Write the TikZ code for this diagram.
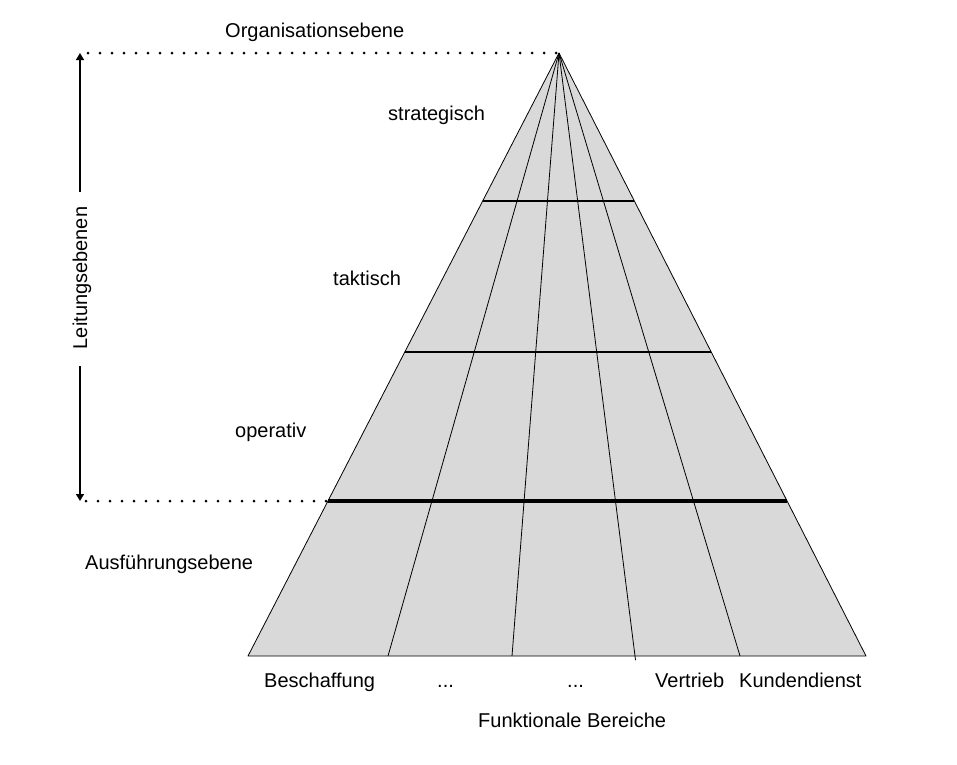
\documentclass[tikz,border=0pt]{standalone}
\usepackage{fontspec}
\setmainfont{Liberation Sans}
\usetikzlibrary{arrows.meta,calc}
\definecolor{pyrfill}{RGB}{217,217,217}
\begin{document}
\begin{tikzpicture}[x=1pt,y=-1pt,line join=round,
  lbl/.style={anchor=base west, inner sep=0pt, font=\fontsize{20}{24}\selectfont},
  thinline/.style={line width=0.8pt},
  levelline/.style={line width=2pt},
  mainlevel/.style={line width=3.2pt},
  dotline/.style={line width=3pt, line cap=round, dash pattern=on 0pt off 12pt},
  dimarrow/.style={line width=1.5pt, -{Triangle[width=8pt,length=7pt]}}]
\useasboundingbox (0,0) rectangle (957,764);
% pyramid
\coordinate (A) at (559,53);
\coordinate (BL) at (248,656);
\coordinate (BR) at (866,656);
\fill[pyrfill] (A) -- (BL) -- (BR) -- cycle;
\coordinate (b1) at (388,656);
\coordinate (b2) at (512,656);
\coordinate (b3) at (635,656);
\coordinate (b4) at (740,656);
\draw[thinline] (A) -- (b1);
\draw[thinline] (A) -- (b2);
\draw[thinline] (A) -- ($(A)!1.007!(b3)$);
\draw[thinline] (A) -- (b4);
\draw[thinline] (A) -- (BL) -- (BR) -- cycle;
% levels
\coordinate (l1L) at ($(A)!0.24544!(BL)$);
\coordinate (l1R) at ($(A)!0.24544!(BR)$);
\coordinate (l2L) at ($(A)!0.49585!(BL)$);
\coordinate (l2R) at ($(A)!0.49585!(BR)$);
\coordinate (l3L) at ($(A)!0.74295!(BL)$);
\coordinate (l3R) at ($(A)!0.74295!(BR)$);
\draw[levelline] (l1L) -- (l1R);
\draw[levelline] (l2L) -- (l2R);
\draw[mainlevel] (l3L) -- (l3R);
% dotted guides
\coordinate (d1) at (88,53);
\coordinate (d2) at (86,501);
\draw[dotline] (d1) -- (A);
\draw[dotline] (d2) -- (l3L);
% dimension arrows
\coordinate (top) at (80,53);
\coordinate (bot) at (80,501);
\coordinate (ar1) at (80,192);
\coordinate (ar2) at (80,366);
\draw[dimarrow] (ar1) -- (top);
\draw[dimarrow] (ar2) -- (bot);
\node[rotate=90, anchor=base, inner sep=0pt, font=\fontsize{20}{24}\selectfont] (leit) at (87,278) {Leitungsebenen};
% labels
\node[lbl] (org) at (225,37) {Organisationsebene};
\node[lbl] (str) at (388,120) {strategisch};
\node[lbl] (tak) at (333,285) {taktisch};
\node[lbl] (ope) at (235,437) {operativ};
\node[lbl] (aus) at (85,569) {Ausführungsebene};
\node[lbl] (bes) at (264,687) {Beschaffung};
\node[lbl] (dot1) at (437,687) {...};
\node[lbl] (dot2) at (567,687) {...};
\node[lbl] (ver) at (655,687) {Vertrieb};
\node[lbl] (kun) at (739,687) {Kundendienst};
\node[lbl] (fun) at (478,727) {Funktionale Bereiche};
\end{tikzpicture}
\end{document}
